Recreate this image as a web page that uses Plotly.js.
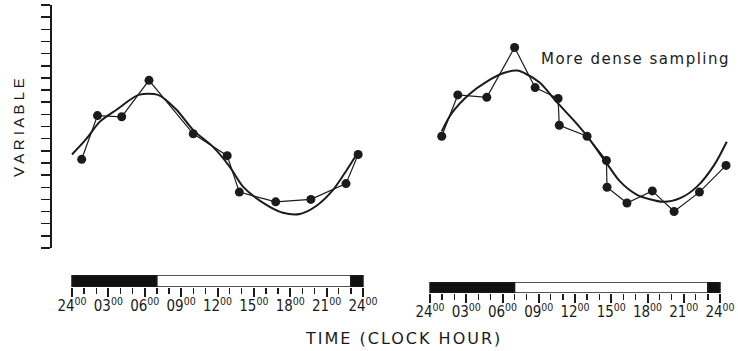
<!DOCTYPE html>
<html>
<head>
<meta charset="utf-8">
<script src="https://cdn.plot.ly/plotly-3.0.1.min.js"></script>
<style>html,body{margin:0;padding:0;background:#fff;}#chart{width:738px;height:351px;}</style>
</head>
<body>
<div id="chart"></div>
<script>
// ---- Data (clock hours, arbitrary variable units) ----
// Left panel: sparse sampling
const leftHours  = [0.8, 2.1, 4.1, 6.35, 10.0, 12.8, 13.8, 16.8, 19.7, 22.6, 23.6];
const leftValues = [7.3, 10.9, 10.8, 13.8, 9.4, 7.6, 4.6, 3.8, 4.0, 5.3, 7.7];
const leftFitHours  = [0.0, 1.2, 2.3, 3.7, 5.5, 7.1, 8.6, 10.0, 11.65, 13.0, 14.1, 15.8, 17.4, 18.8, 20.2, 21.55, 22.65, 23.6];
const leftFitValues = [7.7, 9.0, 10.4, 11.4, 12.6, 12.6, 11.4, 9.7, 8.3, 6.7, 5.05, 3.7, 2.9, 2.8, 3.5, 4.8, 6.4, 7.9];

// Right panel: more dense sampling
const rightHours  = [0.97, 2.3, 4.7, 7.0, 8.7, 10.6, 10.7, 13.0, 14.6, 14.65, 16.3, 18.4, 20.2, 22.3, 24.5];
const rightValues = [9.2, 12.6, 12.4, 16.5, 13.2, 12.3, 10.1, 9.2, 7.2, 5.0, 3.7, 4.7, 3.0, 4.6, 6.8];
const rightFitHours  = [0.97, 1.8, 3.3, 4.7, 6.1, 7.2, 8.0, 9.1, 10.5, 11.9, 13.0, 14.6, 15.7, 17.1, 19.3, 20.7, 22.1, 23.5, 24.56];
const rightFitValues = [9.6, 11.1, 12.7, 13.7, 14.4, 14.6, 14.3, 13.6, 12.0, 10.5, 9.2, 7.0, 5.5, 4.4, 3.8, 4.1, 5.05, 6.8, 8.75];

// Light/dark schedule bar (hours)
const segStart = [0, 7, 23];
const segEnd   = [7, 23, 24];
const segColor = ['#111111', '#ffffff', '#111111'];

// Tick labels
const hourTicks = [0, 3, 6, 9, 12, 15, 18, 21, 24];
const hourLabels = ['24', '03', '06', '09', '12', '15', '18', '21', '24'];
const allHours = Array.from({length: 25}, (_, i) => i);

// ---- Layout helpers ----
const W = 738, H = 351;
const fx = px => px / W;
const fy = py => (H - py) / H;

const ink = '#1b1b1b';
const tickFont = {family: 'Liberation Sans Narrow, DejaVu Sans Condensed, Arial Narrow, sans-serif', size: 15, color: ink};

function hourAxis(domainPx, range, anchor) {
  return {
    domain: [fx(domainPx[0]), fx(domainPx[1])],
    range: range,
    anchor: anchor,
    showgrid: false, zeroline: false, showline: false,
    tickmode: 'array',
    tickvals: hourTicks,
    ticktext: hourLabels.map(t => t + '<sup>00</sup>'),
    ticks: 'outside', ticklen: 9, tickwidth: 2, tickcolor: ink,
    tickfont: tickFont,
    ticklabelstandoff: -4,
    minor: {tickmode: 'array', tickvals: allHours.filter(h => h % 3 !== 0),
            ticks: 'outside', ticklen: 6, tickwidth: 1.3, tickcolor: ink, showgrid: false},
    fixedrange: true
  };
}

const pxPerHourL = 291 / 24, pxPerHourR = 290 / 24;

const traces = [];
function barTrace(xa, ya) {
  return {
    type: 'bar', orientation: 'h', xaxis: xa, yaxis: ya,
    y: segStart.map(() => 0),
    base: segStart,
    x: segStart.map((s, i) => segEnd[i] - s),
    width: 1,
    marker: {color: segColor, line: {color: ink, width: 1.5}},
    hoverinfo: 'skip', showlegend: false
  };
}
traces.push(barTrace('x', 'y3'));
traces.push(barTrace('x2', 'y4'));

// fitted curves
traces.push({x: leftFitHours, y: leftFitValues, xaxis: 'x', yaxis: 'y', mode: 'lines',
  line: {color: ink, width: 2, shape: 'spline', smoothing: 0.8}, showlegend: false});
traces.push({x: rightFitHours, y: rightFitValues, xaxis: 'x2', yaxis: 'y2', mode: 'lines',
  line: {color: ink, width: 2, shape: 'spline', smoothing: 0.8}, showlegend: false});
// observations
traces.push({x: leftHours, y: leftValues, xaxis: 'x', yaxis: 'y', mode: 'lines+markers',
  line: {color: ink, width: 1.2}, marker: {color: ink, size: 9}, showlegend: false});
traces.push({x: rightHours, y: rightValues, xaxis: 'x2', yaxis: 'y2', mode: 'lines+markers',
  line: {color: ink, width: 1.2}, marker: {color: ink, size: 9}, showlegend: false});

const yDomain = [fy(248), fy(5)];
const spaced = (t, ls) => '<span style="letter-spacing:' + ls + 'px">' + t + '</span>';
const layout = {
  width: W, height: H, autosize: false,
  margin: {l: 0, r: 0, t: 0, b: 0},
  paper_bgcolor: '#ffffff', plot_bgcolor: 'rgba(0,0,0,0)',
  barmode: 'overlay', showlegend: false,
  xaxis: hourAxis([52, 372], [(52 - 72) / pxPerHourL, (372 - 72) / pxPerHourL], 'y3'),
  xaxis2: hourAxis([425, 738], [(425 - 430) / pxPerHourR, (738 - 430) / pxPerHourR], 'y4'),
  yaxis: {domain: yDomain, range: [0, 20], anchor: 'x', showgrid: false, zeroline: false,
    showline: true, linewidth: 2, linecolor: ink, ticks: 'outside', ticklen: 9, tickwidth: 1.5,
    tickcolor: ink, dtick: 1, tick0: 0, showticklabels: false, fixedrange: true},
  yaxis2: {domain: yDomain, range: [0, 20], anchor: 'x2', visible: false, fixedrange: true},
  yaxis3: {domain: [fy(287), fy(275)], range: [-0.5, 0.5], anchor: 'x', visible: false, fixedrange: true},
  yaxis4: {domain: [fy(293), fy(282)], range: [-0.5, 0.5], anchor: 'x2', visible: false, fixedrange: true},
  annotations: [
    {text: 'V A R I A B L E', xref: 'paper', yref: 'paper', x: fx(19), y: fy(128),
     xanchor: 'center', yanchor: 'middle',
     textangle: -90, showarrow: false, font: {family: 'Liberation Sans, Arial, sans-serif', size: 15, color: ink}},
    {text: spaced('TIME (CLOCK HOUR)', 2), xref: 'paper', yref: 'paper', x: fx(403), y: fy(338),
     xanchor: 'center', yanchor: 'middle',
     showarrow: false, font: {family: 'DejaVu Sans, sans-serif', size: 16, color: ink}},
    {text: spaced('More dense sampling', 1.5), xref: 'paper', yref: 'paper', x: fx(539), y: fy(59),
     xanchor: 'left', yanchor: 'middle', showarrow: false, font: {family: 'DejaVu Sans, sans-serif', size: 15, color: ink}}
  ]
};

Plotly.newPlot('chart', traces, layout, {staticPlot: true, displayModeBar: false});
</script>
</body>
</html>
